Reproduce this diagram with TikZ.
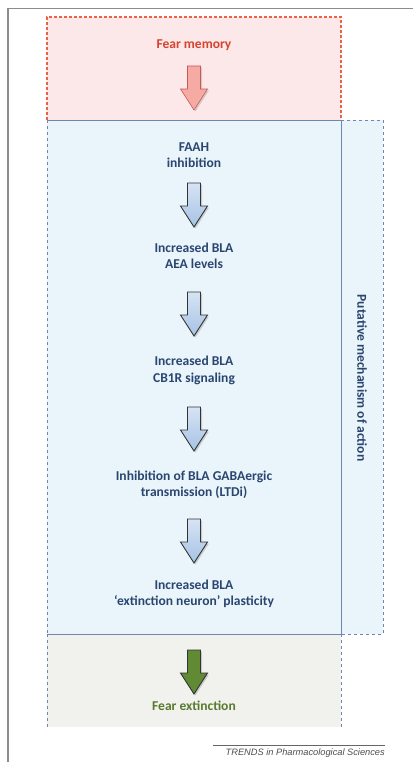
\documentclass[tikz,border=0pt]{standalone}
\usepackage{fontspec}
\setmainfont{Carlito}
\newfontfamily\trendsfont{Liberation Sans}
\usetikzlibrary{shadows,calc}
\definecolor{navy}{RGB}{42,70,112}
\definecolor{redtxt}{RGB}{214,66,48}
\definecolor{reddash}{RGB}{236,96,70}
\definecolor{pinkfill}{RGB}{252,232,232}
\definecolor{bluefill}{RGB}{234,245,251}
\definecolor{blueline}{RGB}{110,134,176}
\definecolor{greyfill}{RGB}{241,242,238}
\definecolor{greentxt}{RGB}{88,122,46}
\definecolor{greenarrow}{RGB}{96,138,52}
\definecolor{pinkarrow}{RGB}{245,170,164}
\definecolor{pinkline}{RGB}{200,90,85}
\definecolor{arrtop}{RGB}{214,228,244}
\definecolor{arrbot}{RGB}{166,194,228}
\tikzset{
  lbl/.style={font=\fontsize{13.6}{16.5}\selectfont\bfseries, align=center, inner sep=0pt},
  bluetxt/.style={lbl, text=navy},
  barrow/.style={draw=black!80, line width=0.9pt, top color=arrtop, bottom color=arrbot,
     drop shadow={shadow xshift=1.5bp, shadow yshift=-1.5bp, opacity=0.35}},
  parrow/.style={draw=pinkline, line width=0.6pt, fill=pinkarrow,
     drop shadow={shadow xshift=1.5bp, shadow yshift=-1.5bp, opacity=0.3}},
  garrow/.style={draw=black!80, line width=0.9pt, fill=greenarrow,
     drop shadow={shadow xshift=1.5bp, shadow yshift=-1.5bp, opacity=0.35}},
  bdash/.style={draw=blueline, line width=0.8pt, dash pattern=on 3bp off 3bp},
  bsolid/.style={draw=blueline, line width=0.8pt},
}
% block arrow: style, top coordinate
\newcommand\blockarr[2]{%
  \path[#1] (#2) ++(-6.5,0) -- ++(13,0) -- ++(0,23) -- ++(7,0) -- ++(-13.5,21)
     -- ++(-13.5,-21) -- ++(7,0) -- cycle;}
\begin{document}
\begin{tikzpicture}[x=1bp,y=-1bp]
\useasboundingbox (0,0) rectangle (413,762);
% outer frame
\draw[line width=1.8pt, black!45] (8,8) -- (8,762);
\draw[line width=0.6pt, black!45] (8,8) -- (413,8);
% fills
\fill[pinkfill] (47,17) rectangle (341,120);
\fill[bluefill] (47,120) rectangle (383,634);
\fill[greyfill] (47,634) rectangle (341,727);
% red dashed box
\draw[draw=reddash, line width=1.1pt, dash pattern=on 3bp off 2bp] (47,120) -- (47,17) -- (341,17) -- (341,120);
% blue box
\draw[bdash] (47,120) -- (47,634);
\draw[bsolid] (47,120) -- (341,120) -- (341,634) -- (47,634);
\draw[bdash] (341,120) -- (383,120) -- (383,634) -- (341,634);
% grey box
\draw[bdash] (47,634) -- (47,727);
\draw[bdash] (341,634) -- (341,727);
% texts
\node[lbl, text=redtxt] (t0) at (194,45) {Fear memory};
\node[bluetxt] (t1) at (194,155) {FAAH\\inhibition};
\node[bluetxt] (t2) at (194,256) {Increased BLA\\AEA levels};
\node[bluetxt] (t3) at (194,370.5) {Increased BLA\\CB1R signaling};
\node[bluetxt] (t4) at (194,484.5) {Inhibition of BLA GABAergic\\transmission (LTDi)};
\node[bluetxt] (t5) at (194,594) {Increased BLA\\‘extinction neuron’ plasticity};
\node[lbl, text=greentxt] (t6) at (194,706) {Fear extinction};
\node[bluetxt, rotate=-90] (side) at (362,378) {Putative mechanism of action};
% arrows
\coordinate (a0) at (194,66);
\coordinate (a1) at (194,183);
\coordinate (a2) at (194,292);
\coordinate (a3) at (194,407);
\coordinate (a4) at (194,519);
\coordinate (a5) at (194,650);
\blockarr{parrow}{a0}
\blockarr{barrow}{a1}
\blockarr{barrow}{a2}
\blockarr{barrow}{a3}
\blockarr{barrow}{a4}
\blockarr{garrow}{a5}
% trends
\coordinate (ls) at (213,745);
\coordinate (le) at (385,745);
\draw[black!60, line width=0.6pt] (ls) -- (le);
\node[anchor=east, inner sep=0pt, text=black!70, font=\trendsfont\itshape\fontsize{9.3}{11}\selectfont] (tr) at (385,753) {TRENDS in Pharmacological Sciences};
\end{tikzpicture}
\end{document}
